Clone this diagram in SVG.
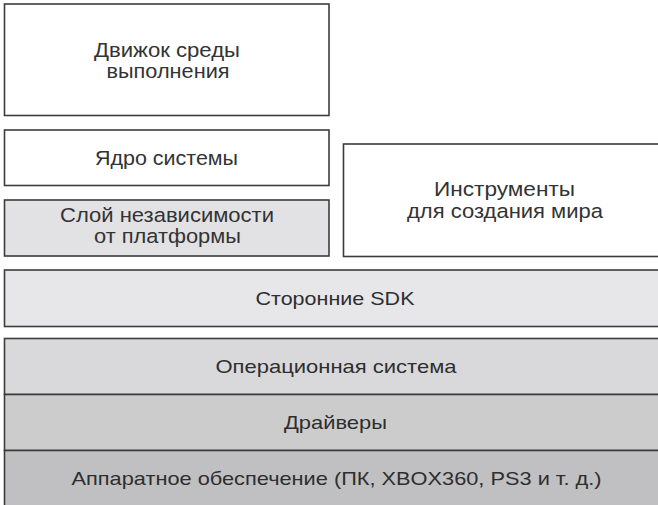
<svg xmlns="http://www.w3.org/2000/svg" width="658" height="505" viewBox="0 0 658 505">
<style>
.box{stroke:#3c3c3c;stroke-width:1.6}
.t{font-family:"Liberation Sans","Arial",sans-serif;font-size:20.5px;fill:#333;text-anchor:middle}
.b{font-family:"Liberation Sans","Arial",sans-serif;font-size:19px;fill:#2e2e2e;text-anchor:middle}
</style>
<rect width="658" height="505" fill="#fff"/>
<g id="runtime">
<rect class="box" x="4.5" y="4" width="324.5" height="111.5" fill="#fff"/>
<text class="t" x="167" y="57.3" textLength="146" lengthAdjust="spacingAndGlyphs">Движок среды</text>
<text class="t" x="168" y="78.3" textLength="123" lengthAdjust="spacingAndGlyphs">выполнения</text>
</g>
<g id="core">
<rect class="box" x="4.5" y="130" width="324.5" height="55.5" fill="#fff"/>
<text class="t" x="166.5" y="165" textLength="143" lengthAdjust="spacingAndGlyphs">Ядро системы</text>
</g>
<g id="platform">
<rect class="box" x="4.5" y="200" width="324.5" height="56" fill="#e2e2e4"/>
<text class="t" x="167" y="222.3" textLength="214" lengthAdjust="spacingAndGlyphs">Слой независимости</text>
<text class="t" x="167.5" y="243.3" textLength="147" lengthAdjust="spacingAndGlyphs">от платформы</text>
</g>
<g id="tools">
<rect class="box" x="343.5" y="144" width="330" height="112.5" fill="#fff"/>
<text class="t" x="504.5" y="195.7" textLength="141" lengthAdjust="spacingAndGlyphs">Инструменты</text>
<text class="t" x="505" y="217.7" textLength="196" lengthAdjust="spacingAndGlyphs">для создания мира</text>
</g>
<g id="sdk">
<rect class="box" x="4.5" y="270" width="670" height="56.5" fill="#e7e7e9"/>
<text class="b" x="335" y="304.5" textLength="159" lengthAdjust="spacingAndGlyphs">Сторонние SDK</text>
</g>
<g id="os">
<rect class="box" x="4.5" y="338.5" width="670" height="56" fill="#d9d9db"/>
<text class="b" x="336" y="373" textLength="241" lengthAdjust="spacingAndGlyphs">Операционная система</text>
</g>
<g id="drivers">
<rect class="box" x="4.5" y="394.5" width="670" height="56" fill="#cccccd"/>
<text class="b" x="335.5" y="429" textLength="103" lengthAdjust="spacingAndGlyphs">Драйверы</text>
</g>
<g id="hardware">
<rect class="box" x="4.5" y="450.5" width="670" height="70" fill="#c0c0c2"/>
<text class="b" x="336.5" y="485" textLength="530" lengthAdjust="spacingAndGlyphs">Аппаратное обеспечение (ПК, XBOX360, PS3 и т. д.)</text>
</g>
<g id="connectors"></g>
</svg>
